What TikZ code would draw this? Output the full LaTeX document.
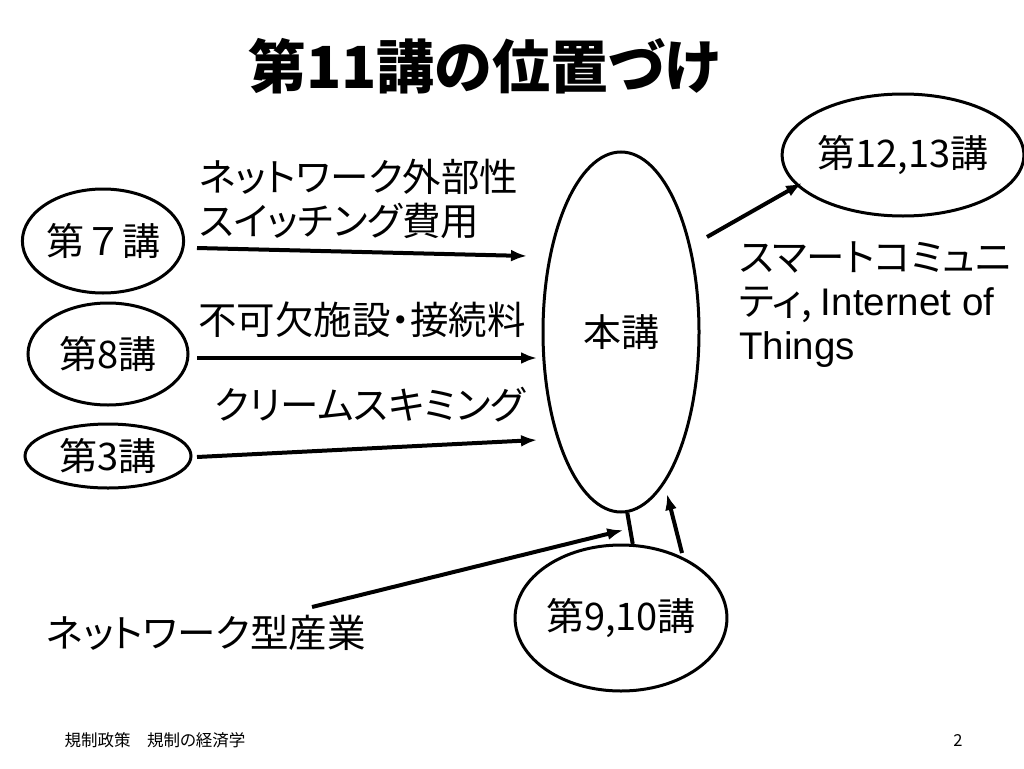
\documentclass[tikz,border=0pt]{standalone}
\usepackage{fontspec}
\setmainfont{Noto Sans CJK JP}[RawFeature=+palt]
\newfontfamily\jpfixed{Noto Sans CJK JP}
\newfontfamily\latinfont{Liberation Sans}
\usetikzlibrary{shapes.geometric,arrows.meta,calc}
\tikzset{
	lecture/.style={draw,ellipse,line width=3pt,inner sep=0pt,font=\fontsize{38}{44}\selectfont},
	arr/.style={->,line width=4pt},
	note/.style={inner sep=0pt,font=\fontsize{38.5}{44}\selectfont},
}
\begin{document}
\begin{tikzpicture}[>={Latex[length=16pt,width=12pt]},x=1pt,y=-1pt]
	\useasboundingbox (0,0) rectangle (1024,768);
	% title
	\node[font=\fontsize{58}{64}\selectfont\bfseries] (title) at (484,66) {第11講の位置づけ};
	% lectures
	\node[lecture,minimum width=156pt,minimum height=360pt] (hon) at (621,332) {本講};
	\node[lecture,minimum width=154pt,minimum height=104pt] (k7) at (103,241) {\jpfixed 第７講};
	\node[lecture,minimum width=160pt,minimum height=102pt] (k8) at (108,354) {第8講};
	\node[lecture,minimum width=166pt,minimum height=64pt] (k3) at (108,456) {第3講};
	\node[lecture,minimum width=190pt,minimum height=122pt] (k1213) at (903,155) {第12,13講};
	\node[lecture,minimum width=186pt,minimum height=146pt] (k910) at (621,618) {第9,10講};
	% labels
	\node[note,anchor=west,align=left] (extern) at (199,199) {ネットワーク外部性\\スイッチング費用};
	\node[note] (facility) at (362,320) {不可欠施設・接続料};
	\node[note] (cream) at (370,405) {クリームスキミング};
	\node[note,anchor=west,align=left] (smart) at (739,305) {スマートコミュニ\\ティ, {\latinfont Internet of}\\{\latinfont Things}};
	\node[note] (industry) at (206,633) {ネットワーク型産業};
	% arrows
	\draw[arr] ($(k7)+(94,7)$) -- ($(hon)+(-94,-76)$);
	\draw[arr] ($(k8)+(89,4)$) -- ($(hon)+(-84,26)$);
	\draw[arr] ($(k3)+(89,1)$) -- ($(hon)+(-84,108)$);
	\draw[arr] ($(hon)+(86,-95)$) -- ($(k1213)+(-101,28)$);
	\draw[line width=4pt] (hon.-88) -- coordinate[pos=.5] (link) (k910.81);
	\draw[arr,shorten >=7pt] ($(industry)+(106,-26)$) -- (link);
	\draw[arr] ($(k910)+(61,-65)$) -- ($(hon)+(46,162)$);
	% footer
	\node[font=\fontsize{16.5}{18}\selectfont,anchor=west] (course) at (61,740) {規制政策　規制の経済学};
	\node[font=\fontsize{16.5}{18}\selectfont] (page) at (958,740) {2};
\end{tikzpicture}
\end{document}
